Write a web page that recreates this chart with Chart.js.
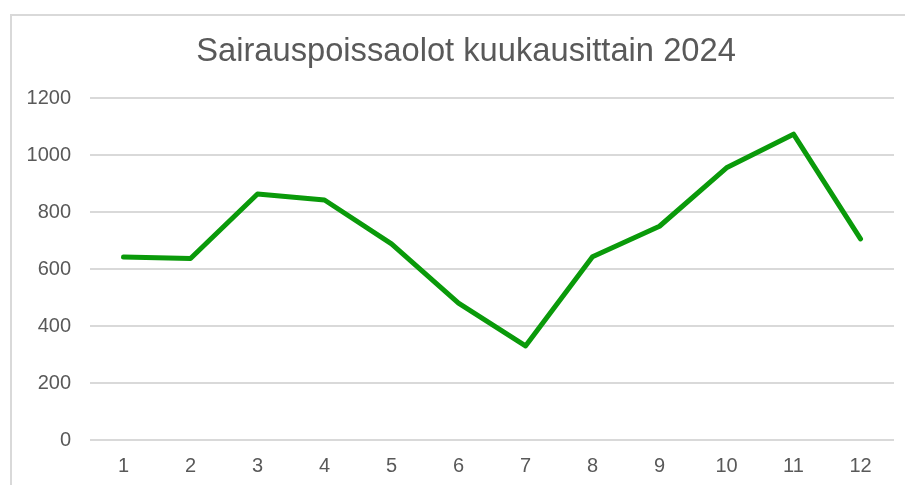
<!DOCTYPE html>
<html>
<head>
<meta charset="utf-8">
<script src="https://cdn.jsdelivr.net/npm/chart.js@4"></script>
<style>
  html, body { margin: 0; padding: 0; background: #ffffff; }
  #wrap { position: relative; width: 905px; height: 485px; }
</style>
</head>
<body>
<div id="wrap"><canvas id="c" width="905" height="485"></canvas></div>
<script>
const titleText = "Sairauspoissaolot kuukausittain 2024";
const months = ["1", "2", "3", "4", "5", "6", "7", "8", "9", "10", "11", "12"];
const absences = [642, 637, 863, 842, 688, 480, 330, 643, 750, 955, 1073, 706];
const yMin = 0;
const yMax = 1200;
const yStep = 200;

const frameAndTitle = {
  id: 'frameAndTitle',
  beforeDraw(chart) {
    const ctx = chart.ctx;
    ctx.save();
    ctx.fillStyle = '#ffffff';
    ctx.fillRect(0, 0, chart.width, chart.height);
    ctx.strokeStyle = '#d9d9d9';
    ctx.lineWidth = 2;
    ctx.beginPath();
    ctx.moveTo(11, chart.height);
    ctx.lineTo(11, 15);
    ctx.lineTo(chart.width, 15);
    ctx.stroke();
    ctx.restore();
  },
  afterDraw(chart, args, opts) {
    const ctx = chart.ctx;
    ctx.save();
    ctx.fillStyle = '#595959';
    ctx.font = 'normal 32.7px "Liberation Sans", Arial, sans-serif';
    ctx.textAlign = 'center';
    ctx.textBaseline = 'alphabetic';
    ctx.fillText(opts.text, 466, 61);
    ctx.restore();
  }
};

new Chart(document.getElementById('c'), {
  type: 'line',
  data: {
    labels: months,
    datasets: [{
      data: absences,
      borderColor: '#0a9a0a',
      backgroundColor: '#0a9a0a',
      borderWidth: 5,
      borderCapStyle: 'round',
      borderJoinStyle: 'round',
      pointRadius: 0,
      pointHoverRadius: 0,
      tension: 0,
      fill: false
    }]
  },
  options: {
    responsive: false,
    animation: false,
    devicePixelRatio: 1,
    layout: { padding: { left: 22, right: 11, top: 98, bottom: 7 } },
    plugins: {
      legend: { display: false },
      tooltip: { enabled: false },
      title: { display: false },
      frameAndTitle: { text: titleText }
    },
    scales: {
      x: {
        offset: true,
        afterFit(scale) { scale.height = 38; },
        grid: { display: false, drawTicks: false },
        border: { display: false },
        ticks: {
          color: '#595959',
          padding: 14,
          maxRotation: 0,
          font: { family: 'Liberation Sans, Arial, sans-serif', size: 20, lineHeight: 1.2 }
        }
      },
      y: {
        min: yMin,
        max: yMax,
        afterFit(scale) { scale.width = 68; },
        grid: { color: '#d9d9d9', lineWidth: 2, drawTicks: false },
        border: { display: false },
        ticks: {
          stepSize: yStep,
          color: '#595959',
          padding: 19,
          callback: (v) => String(v),
          font: { family: 'Liberation Sans, Arial, sans-serif', size: 20, lineHeight: 1.2 }
        }
      }
    }
  },
  plugins: [frameAndTitle]
});
</script>
</body>
</html>
